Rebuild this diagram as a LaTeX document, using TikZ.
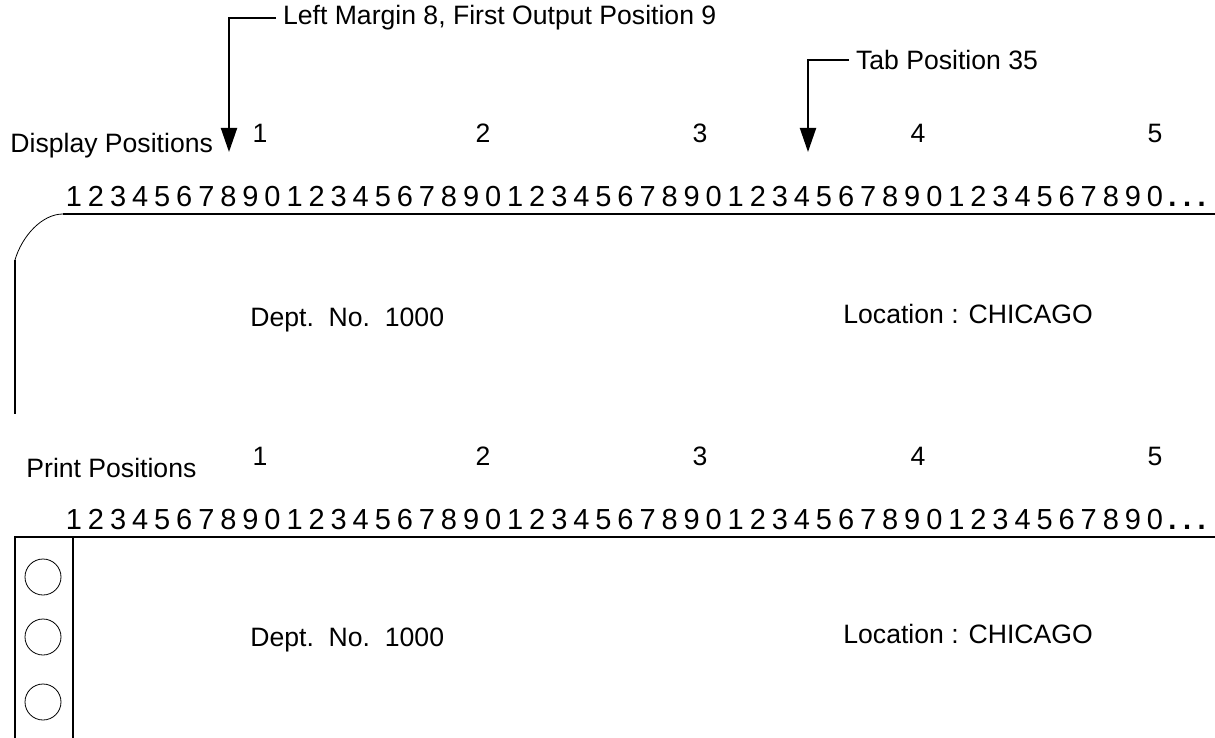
\documentclass[tikz,border=0pt]{standalone}
\usepackage{fontspec}
\setmainfont{Liberation Sans}
\usetikzlibrary{arrows.meta}

\begin{document}
\begin{tikzpicture}[x=0.5pt,y=-0.5pt,font=\fontsize{13.3}{16}\selectfont,
  tip/.style={line width=1pt,-{Triangle[width=8pt,length=12pt]}},
  rule/.style={line width=1pt},
  digit/.style={anchor=base,font=\fontsize{14.5}{17}\selectfont},
  dots/.style={anchor=base west,inner sep=0pt,font=\fontsize{14.5}{17}\bfseries},
  lbl/.style={anchor=west,inner sep=0pt}]
\useasboundingbox (0,0) rectangle (1215,738);

% callouts
\node[anchor=west] (lm) at (276,18) {Left Margin 8, First Output Position 9};
\coordinate (lmtip) at (229,152);
\draw[tip] (lm.west) -| (lmtip);
\node[anchor=west] (tab) at (849,60) {Tab Position 35};
\coordinate (tabtip) at (808,152);
\draw[tip] (tab.west) -| (tabtip);

% display screen
\node[lbl] (disp) at (10,146) {Display Positions};
\foreach \X/\x in {1/260,2/483,3/700,4/918,5/1155}
  \node (dt\X) at (\x,133) {\X};
\foreach \k in {1,...,50} {
  \pgfmathtruncatemacro\d{mod(\k,10)}
  \node[digit] (dd\k) at ({74+(\k-1)*22.06},206) {\d};}
\node[dots] (ddots) at (1168,206) {.\hspace{3.3pt}.\hspace{3.3pt}.};
\draw[rule] (1215,214) -- (63,214);
\draw[thin] (63,214) .. controls (42,214) and (22,236) .. (15,260);
\draw[rule] (15,260) -- (15,414);
\node[lbl] (dept1) at (250,320) {Dept.~~No.~~1000};
\node[lbl] (loc1) at (843,314) {Location : CHICAGO};

% printed form
\node[lbl] (prn) at (26,468) {Print Positions};
\foreach \X/\x in {1/260,2/483,3/700,4/918,5/1155}
  \node (pt\X) at (\x,456) {\X};
\foreach \k in {1,...,50} {
  \pgfmathtruncatemacro\d{mod(\k,10)}
  \node[digit] (pd\k) at ({74+(\k-1)*22.06},529) {\d};}
\node[dots] (pdots) at (1168,529) {.\hspace{3.3pt}.\hspace{3.3pt}.};
\draw[rule] (1215,537) -- (15,537) -- (15,738);
\draw[rule] (73,537) -- (73,738);
\foreach \y in {577,637,702}
  \draw[thin] (43,\y) circle[radius=9pt];
\node[lbl] (dept2) at (250,640) {Dept.~~No.~~1000};
\node[lbl] (loc2) at (843,634) {Location : CHICAGO};
\end{tikzpicture}
\end{document}
